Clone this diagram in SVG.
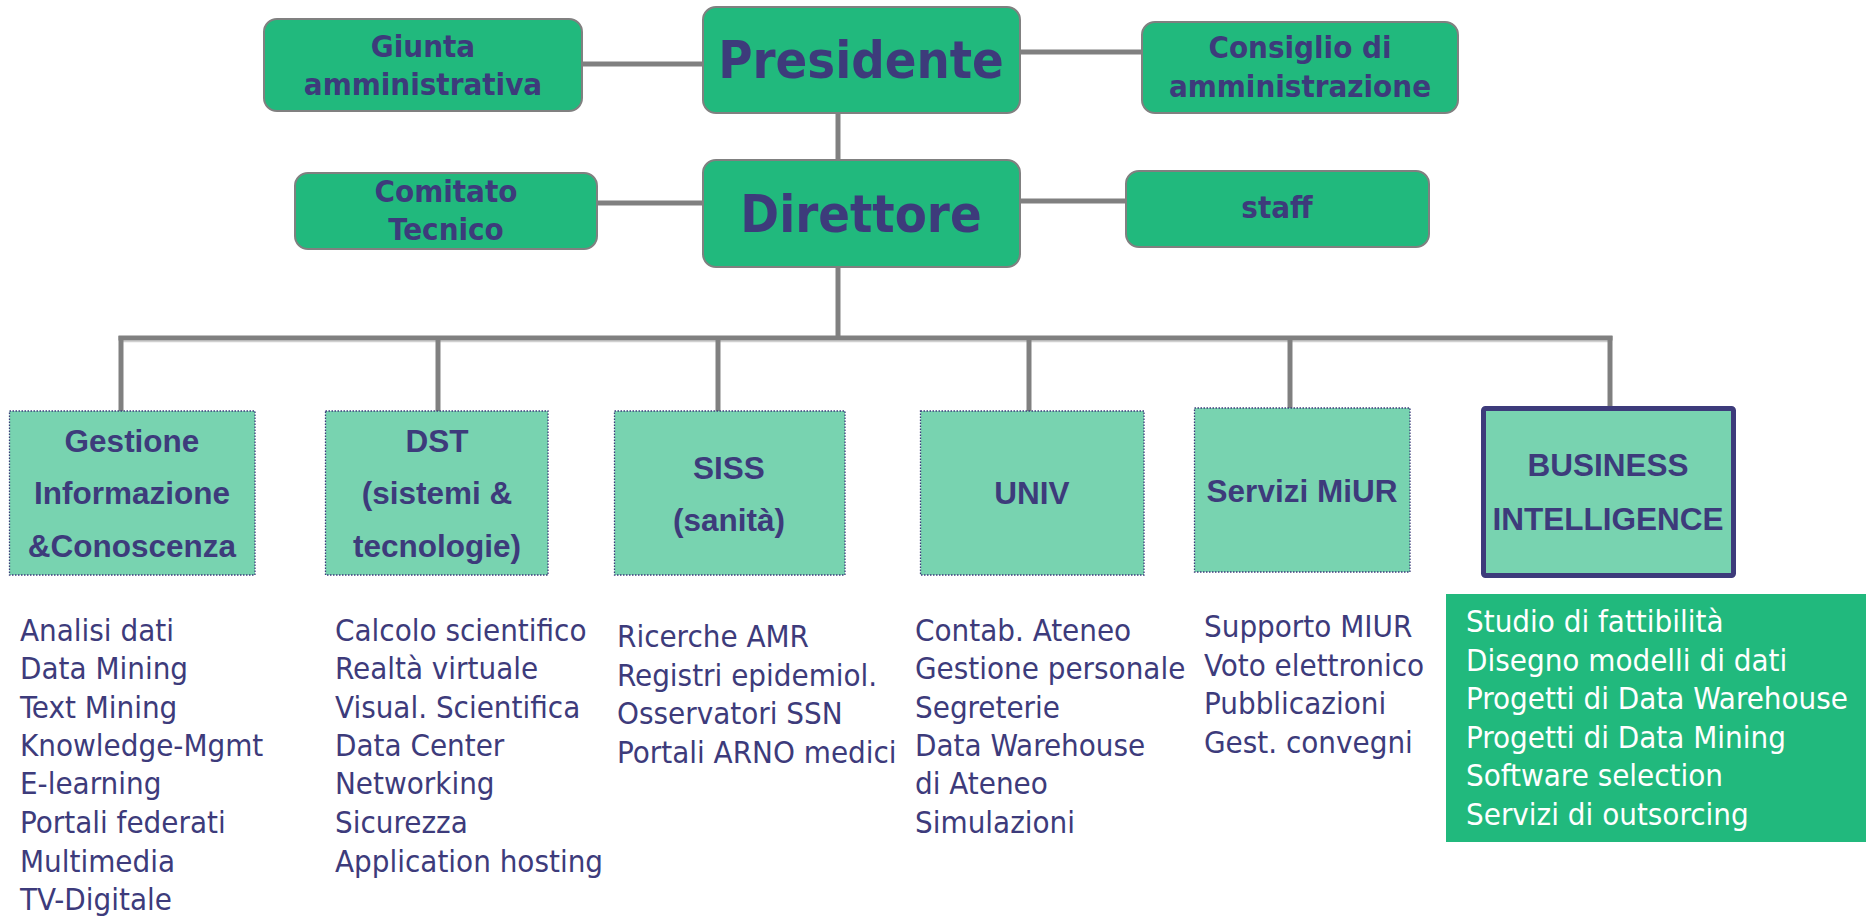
<svg xmlns="http://www.w3.org/2000/svg" width="1866" height="917" viewBox="0 0 1866 917">
<style>
.top{fill:#21B97D;stroke:#808080;stroke-width:2}
.unit{fill:#78D3B0;stroke:#3D3B7B;stroke-width:1.3;stroke-dasharray:1.5 1.5}
.bi{fill:#78D3B0;stroke:#3D3B7B;stroke-width:5}
.con{stroke:#808080;stroke-width:5;fill:none}
.tb{font-family:"DejaVu Sans Condensed","DejaVu Sans",sans-serif;font-weight:bold;fill:#3D3B7B;text-anchor:middle}
.ub{font-family:"Liberation Sans",Arial,sans-serif;font-weight:bold;fill:#3D3B7B;text-anchor:middle;font-size:31.5px}
.li{font-family:"DejaVu Sans Condensed","DejaVu Sans",sans-serif;fill:#3D3B7B;font-size:31px}
.lw{fill:#FFFFFF}
</style>
<rect width="1866" height="917" fill="#FFFFFF"/>
<g id="connectors">
<line class="con" x1="582" y1="64" x2="703" y2="64"/>
<line class="con" x1="1020" y1="52" x2="1142" y2="52"/>
<line class="con" x1="838" y1="113" x2="838" y2="160"/>
<line class="con" x1="597" y1="203" x2="703" y2="203"/>
<line class="con" x1="1020" y1="201" x2="1126" y2="201"/>
<line class="con" x1="838" y1="267" x2="838" y2="338"/>
<line stroke="#D0D0D0" stroke-width="1.5" x1="121" y1="341.5" x2="1610" y2="341.5"/>
<line class="con" x1="118.5" y1="338" x2="1612.5" y2="338"/>
<line class="con" x1="121" y1="336" x2="121" y2="414"/>
<line class="con" x1="438" y1="336" x2="438" y2="411"/>
<line class="con" x1="718" y1="336" x2="718" y2="411"/>
<line class="con" x1="1029" y1="336" x2="1029" y2="411"/>
<line class="con" x1="1290" y1="336" x2="1290" y2="408"/>
<line class="con" x1="1610" y1="336" x2="1610" y2="408"/>
</g>
<g id="giunta">
<rect class="top" x="264" y="19" width="318" height="92" rx="13"/>
<text class="tb" font-size="31" x="423" y="57">Giunta</text>
<text class="tb" font-size="31" x="423" y="95">amministrativa</text>
</g>
<g id="presidente">
<rect class="top" x="703" y="7" width="317" height="106" rx="13"/>
<text class="tb" font-size="52" x="861" y="78">Presidente</text>
</g>
<g id="consiglio">
<rect class="top" x="1142" y="22" width="316" height="91" rx="13"/>
<text class="tb" font-size="31" x="1300" y="58">Consiglio di</text>
<text class="tb" font-size="31" x="1300" y="97">amministrazione</text>
</g>
<g id="comitato">
<rect class="top" x="295" y="173" width="302" height="76" rx="13"/>
<text class="tb" font-size="31" x="446" y="202">Comitato</text>
<text class="tb" font-size="31" x="446" y="240">Tecnico</text>
</g>
<g id="direttore">
<rect class="top" x="703" y="160" width="317" height="107" rx="13"/>
<text class="tb" font-size="52" x="861" y="232">Direttore</text>
</g>
<g id="staff">
<rect class="top" x="1126" y="171" width="303" height="76" rx="13"/>
<text class="tb" font-size="31" x="1277" y="218">staff</text>
</g>
<g id="gestione">
<rect class="unit" x="9.5" y="411" width="245.5" height="164"/>
<text class="ub" x="132" y="452">Gestione</text>
<text class="ub" x="132" y="504">Informazione</text>
<text class="ub" x="132" y="557">&amp;Conoscenza</text>
</g>
<g id="dst">
<rect class="unit" x="325.5" y="411" width="222.5" height="164"/>
<text class="ub" x="437" y="452">DST</text>
<text class="ub" x="437" y="504">(sistemi &amp;</text>
<text class="ub" x="437" y="557">tecnologie)</text>
</g>
<g id="siss">
<rect class="unit" x="614.5" y="411" width="230.5" height="164"/>
<text class="ub" x="729" y="479">SISS</text>
<text class="ub" x="729" y="531">(sanità)</text>
</g>
<g id="univ">
<rect class="unit" x="920.5" y="411" width="223.5" height="164"/>
<text class="ub" x="1032" y="504">UNIV</text>
</g>
<g id="miur">
<rect class="unit" x="1194.5" y="408" width="215.5" height="164"/>
<text class="ub" x="1302" y="502">Servizi MiUR</text>
</g>
<g id="bi">
<rect class="bi" x="1483.5" y="408.5" width="250" height="167" rx="2"/>
<text class="ub" x="1608" y="476">BUSINESS</text>
<text class="ub" x="1608" y="530">INTELLIGENCE</text>
</g>
<g id="list-gestione">
<text class="li" x="20" y="641">Analisi dati</text>
<text class="li" x="20" y="679">Data Mining</text>
<text class="li" x="20" y="718">Text Mining</text>
<text class="li" x="20" y="756">Knowledge-Mgmt</text>
<text class="li" x="20" y="794">E-learning</text>
<text class="li" x="20" y="833">Portali federati</text>
<text class="li" x="20" y="872">Multimedia</text>
<text class="li" x="20" y="910">TV-Digitale</text>
</g>
<g id="list-dst">
<text class="li" x="335" y="641">Calcolo scientifico</text>
<text class="li" x="335" y="679">Realtà virtuale</text>
<text class="li" x="335" y="718">Visual. Scientifica</text>
<text class="li" x="335" y="756">Data Center</text>
<text class="li" x="335" y="794">Networking</text>
<text class="li" x="335" y="833">Sicurezza</text>
<text class="li" x="335" y="872">Application hosting</text>
</g>
<g id="list-siss">
<text class="li" x="617" y="647">Ricerche AMR</text>
<text class="li" x="617" y="686">Registri epidemiol.</text>
<text class="li" x="617" y="724">Osservatori SSN</text>
<text class="li" x="617" y="763">Portali ARNO medici</text>
</g>
<g id="list-univ">
<text class="li" x="915" y="641">Contab. Ateneo</text>
<text class="li" x="915" y="679">Gestione personale</text>
<text class="li" x="915" y="718">Segreterie</text>
<text class="li" x="915" y="756">Data Warehouse</text>
<text class="li" x="915" y="794">di Ateneo</text>
<text class="li" x="915" y="833">Simulazioni</text>
</g>
<g id="list-miur">
<text class="li" x="1204" y="637">Supporto MIUR</text>
<text class="li" x="1204" y="676">Voto elettronico</text>
<text class="li" x="1204" y="714">Pubblicazioni</text>
<text class="li" x="1204" y="753">Gest. convegni</text>
</g>
<g id="list-bi">
<rect x="1446" y="594" width="420" height="248" fill="#21B97D"/>
<text class="li lw" x="1466" y="632">Studio di fattibilità</text>
<text class="li lw" x="1466" y="671">Disegno modelli di dati</text>
<text class="li lw" x="1466" y="709">Progetti di Data Warehouse</text>
<text class="li lw" x="1466" y="748">Progetti di Data Mining</text>
<text class="li lw" x="1466" y="786">Software selection</text>
<text class="li lw" x="1466" y="825">Servizi di outsorcing</text>
</g>
</svg>
